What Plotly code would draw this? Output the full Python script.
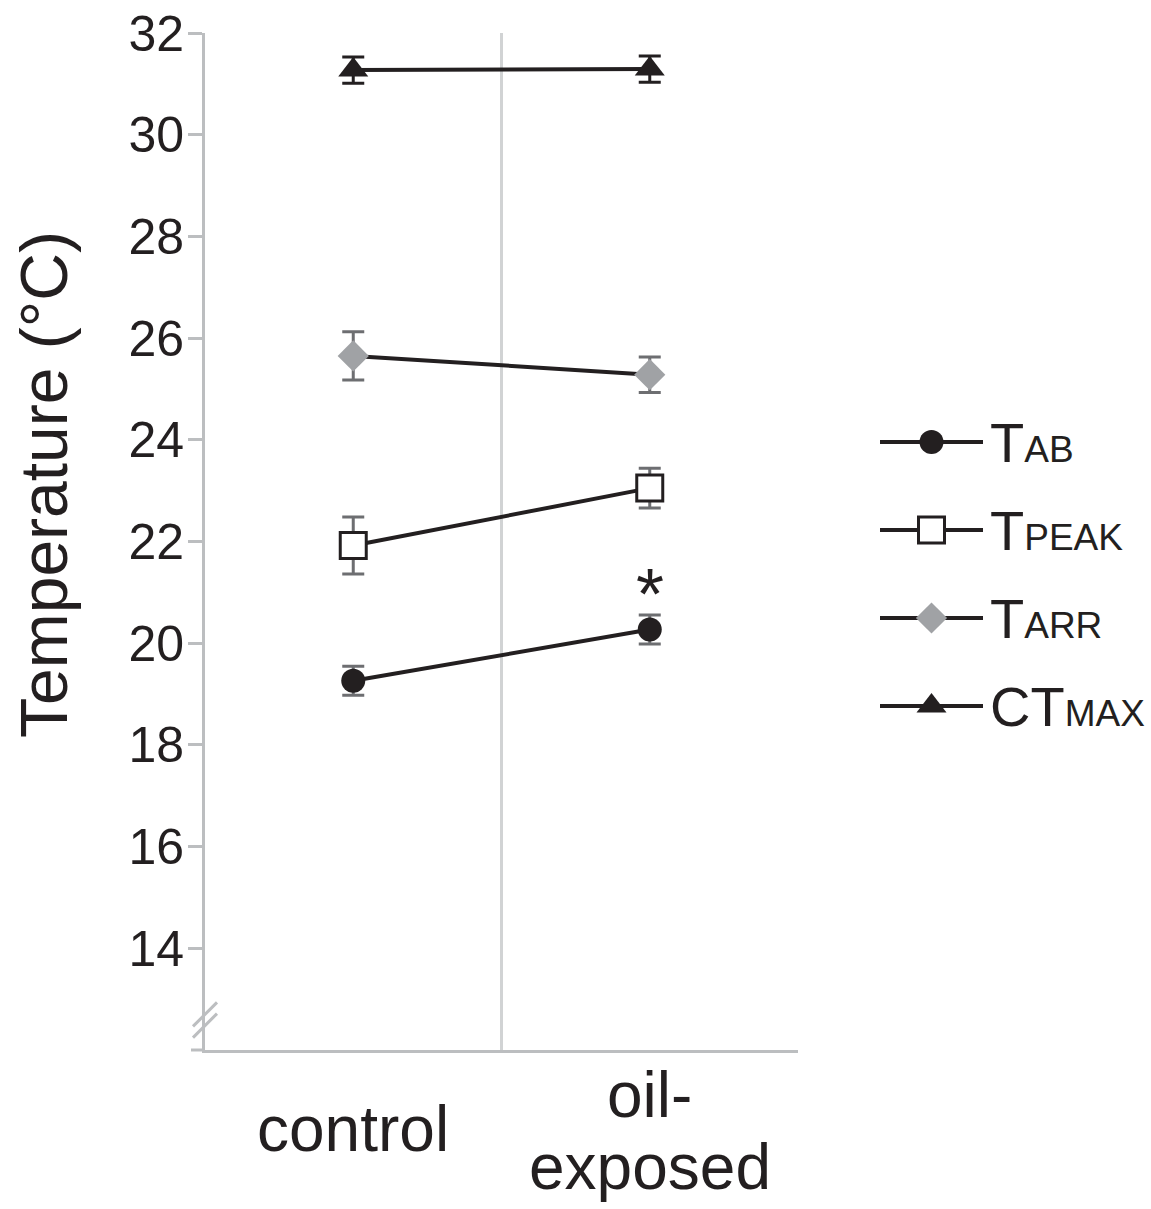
import plotly.graph_objects as go

# ---- data ----
groups = [0.5, 1.5]                      # category centres on the x axis
group_labels = ["control", "oil-<br>exposed"]
boundaries = [1, 2]                      # category separators

t_ab = [19.26, 20.27]
t_ab_err = [0.285, 0.285]
t_peak = [21.92, 23.05]
t_peak_err = [0.56, 0.39]
t_arr = [25.65, 25.28]
t_arr_err = [0.475, 0.35]
ct_max = [31.27, 31.29]
ct_max_err = [0.26, 0.26]

legend_main = ["T", "T", "T", "CT"]
legend_sub = ["AB", "PEAK", "ARR", "MAX"]

y_ticks = [14, 16, 18, 20, 22, 24, 26, 28, 30, 32]
y_range = [12, 32]
y_break = [12.70, 12.48]                 # axis-break marks (value units)
y_title = "Temperature (°C)"

# ---- styles ----
FONT = "Liberation Sans, Arial, sans-serif"
INK = "#231f20"
AXIS = "#bcbec0"
GRID = "#d1d3d4"
ERR = "#6d6e71"
GREY_FILL = "#a0a2a5"

W, H = 1151, 1209
ML, MT = 205, 33
PLOT_H = 1017
MB = H - MT - PLOT_H
MR = 0
plot_w = W - ML - MR
main_w = 593


def px_x(ref_x):
    return (ref_x - ML) / plot_w


def px_y(ref_y):
    return (MT + PLOT_H - ref_y) / PLOT_H


def val_to_paper(v):
    return (v - y_range[0]) / (y_range[1] - y_range[0])


series = [
    dict(y=t_ab, err=t_ab_err, symbol="circle", size=24, fill=INK, lc=INK, lw=0, ecol=ERR),
    dict(y=t_peak, err=t_peak_err, symbol="square", size=26, fill="white", lc=INK, lw=3, ecol=ERR),
    dict(y=t_arr, err=t_arr_err, symbol="diamond", size=24, fill=GREY_FILL, lc=GREY_FILL, lw=0, ecol=ERR),
    dict(y=ct_max, err=ct_max_err, symbol="triangle-up", size=26, fill=INK, lc=INK, lw=0, ecol=INK),
]

fig = go.Figure()
for s in series:
    fig.add_trace(go.Scatter(
        x=groups, y=s["y"], mode="lines+markers",
        line=dict(color=INK, width=4),
        marker=dict(symbol=s["symbol"], size=s["size"], color=s["fill"], opacity=1,
                    line=dict(color=s["lc"], width=s["lw"])),
        error_y=dict(type="data", array=s["err"], visible=True,
                     color=s["ecol"], thickness=3, width=11),
        showlegend=False, hoverinfo="skip",
        xaxis="x", yaxis="y",
    ))

# custom legend (row index = series order)
for i, s in enumerate(series):
    fig.add_trace(go.Scatter(
        x=[0, 1, 2], y=[i, i, i], mode="lines+markers",
        line=dict(color=INK, width=4),
        marker=dict(symbol=s["symbol"], size=[0, s["size"], 0], color=s["fill"], opacity=1,
                    line=dict(color=s["lc"], width=[0, s["lw"], 0])),
        showlegend=False, hoverinfo="skip",
        xaxis="x2", yaxis="y2",
    ))

annotations = []
for i, (m, sb) in enumerate(zip(legend_main, legend_sub)):
    annotations.append(dict(
        xref="paper", yref="y2", x=px_x(988), y=i,
        xanchor="left", yanchor="middle", showarrow=False,
        text=f"{m}<span style='font-size:37px'>{sb}</span>",
        font=dict(family=FONT, size=56, color=INK),
    ))

# category labels under the x axis, one text line per annotation
line_shifts = {1: [-79], 2: [-45, -117]}
for g, lab in zip(groups, group_labels):
    lines = lab.split("<br>")
    for ln, sh in zip(lines, line_shifts[len(lines)]):
        annotations.append(dict(
            xref="x", yref="paper", x=g, y=0, xanchor="center", yanchor="middle",
            showarrow=False, text=ln, yshift=sh,
            font=dict(family=FONT, size=64, color=INK),
        ))

# y-axis title (placed like the reference, above the axis centre)
annotations.append(dict(
    xref="paper", yref="paper", x=px_x(44), y=px_y(485), xanchor="center", yanchor="middle",
    showarrow=False, text=y_title, textangle=-90,
    font=dict(family=FONT, size=66, color=INK),
))

# significance asterisk above oil-exposed T_AB
annotations.append(dict(
    xref="x", yref="y", x=groups[1], y=t_ab[1] + t_ab_err[1],
    xanchor="center", yanchor="bottom", showarrow=False, text="*",
    font=dict(family=FONT, size=72, color=INK), yshift=-21,
))

shapes = [
    # x-axis line extension left of the y axis
    dict(type="line", xref="paper", x0=-14 / plot_w, x1=0,
         yref="paper", y0=0, y1=0, line=dict(color=AXIS, width=3)),
]
for yb in y_break:
    shapes.append(dict(type="line", xref="paper", xsizemode="pixel", xanchor=0, x0=-12, x1=12,
                       yref="paper", ysizemode="pixel", yanchor=val_to_paper(yb), y0=-12, y1=12,
                       line=dict(color=AXIS, width=3)))

fig.update_layout(
    width=W, height=H,
    margin=dict(l=ML, r=MR, t=MT, b=MB),
    paper_bgcolor="white", plot_bgcolor="white",
    font=dict(family=FONT, color=INK),
    xaxis=dict(
        domain=[0, main_w / plot_w], range=[0, 2],
        tickmode="array", tickvals=groups, ticktext=group_labels,
        showticklabels=False,
        ticks="", showgrid=False, zeroline=False,
        showline=True, linecolor=AXIS, linewidth=3,
        minor=dict(tickmode="array", tickvals=boundaries, showgrid=True,
                   gridcolor=GRID, gridwidth=3, ticks=""),
    ),
    yaxis=dict(
        range=y_range, tickmode="array", tickvals=y_ticks,
        tickfont=dict(family=FONT, size=50, color=INK),
        ticks="outside", ticklen=14, tickwidth=3, tickcolor=AXIS,
        ticklabelstandoff=-6, ticklabeloverflow="allow",
        showgrid=False, zeroline=False,
        showline=True, linecolor=AXIS, linewidth=3,
    ),
    xaxis2=dict(domain=[px_x(880), px_x(983)], range=[0, 2],
                anchor="y2", visible=False),
    yaxis2=dict(domain=[px_y(750), px_y(398)],
                range=[3.5, -0.5], anchor="x2", visible=False),
    annotations=annotations,
    shapes=shapes,
)

fig.write_html("out.html", config={"displayModeBar": False},
               post_script="document.body.style.margin='0';")
